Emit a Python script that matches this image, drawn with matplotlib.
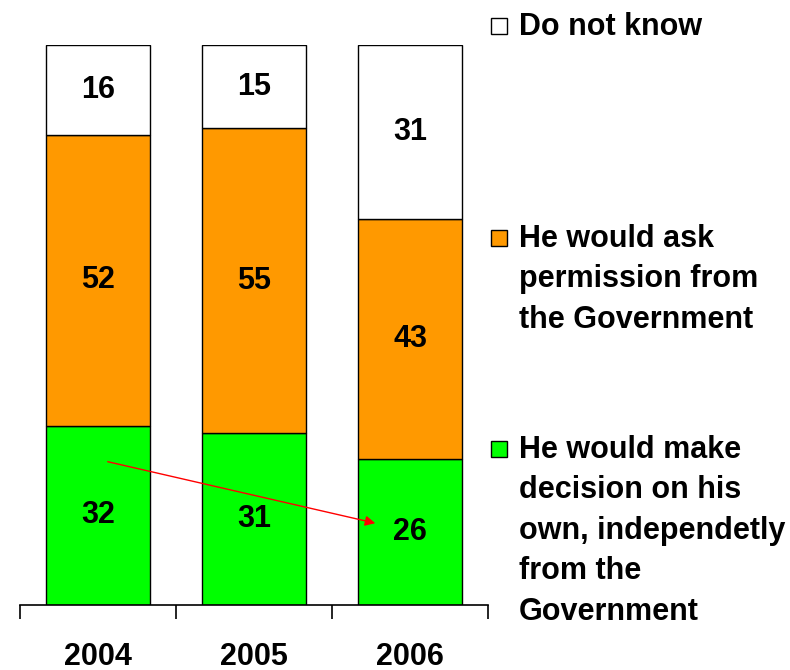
import matplotlib.pyplot as plt
import numpy as np

plt.rcParams['font.family'] = ['Liberation Sans', 'DejaVu Sans']
plt.rcParams['font.weight'] = 'bold'

# 데이터
years = ['2004', '2005', '2006']
independent = [32, 31, 26]
ask_permission = [52, 55, 43]
do_not_know = [16, 15, 31]

labels = ['Do not know',
          'He would ask\npermission from\nthe Government',
          'He would make\ndecision on his\nown, independetly\nfrom the\nGovernment']

fig = plt.figure(figsize=(7.9, 6.7), dpi=100)
ax = fig.add_axes([20 / 790, 1 - 605 / 670, 468 / 790, 560 / 670])

x = np.arange(len(years))
w = 0.67
series = [independent, ask_permission, do_not_know]
cols = ['#00ff00', '#ff9900', '#ffffff']
# 막대 높이는 합계 100%로 정규화
totals = np.array(independent) + np.array(ask_permission) + np.array(do_not_know)
bottom = np.zeros(len(years))
for vals, c in zip(series, cols):
    h = np.array(vals) / totals * 100
    ax.bar(x, h, w, bottom=bottom, color=c, edgecolor='black', linewidth=1)
    for xi, b, hh, v in zip(x, bottom, h, vals):
        ax.text(xi, b + hh / 2, str(v), ha='center', va='center', fontsize=22, fontweight='bold')
    bottom += h

ax.set_xlim(-0.5, 2.5)
ax.set_ylim(0, 100)
for s in ['top', 'right', 'left']:
    ax.spines[s].set_visible(False)
ax.spines['bottom'].set_linewidth(1.2)
ax.set_yticks([])
ax.set_xticks([-0.5, 0.5, 1.5, 2.5])
ax.set_xticklabels([])
ax.tick_params(axis='x', direction='out', length=10, width=1.2)
for xi, yr in zip(x, years):
    ax.text(xi, -9.2, yr, ha='center', va='center', fontsize=22, fontweight='bold')

# 화살표
ax.annotate('', xy=(1.795, 14.5), xytext=(0.045, 25.7),
            arrowprops=dict(arrowstyle='-|>', color='red', lw=1, mutation_scale=15))

# 범례
cap_top = [14, 226, 437]
box_c = ['#ffffff', '#ff9900', '#00ff00']
for ct, lab, c in zip(cap_top, labels, box_c):
    fig.patches.append(plt.Rectangle((491 / 790, 1 - (ct + 20) / 670), 16 / 790, 16 / 670,
                                     transform=fig.transFigure, facecolor=c,
                                     edgecolor='black', linewidth=1))
    fig.text(519 / 790, 1 - (ct - 2) / 670, lab, ha='left', va='top', fontsize=22,
             fontweight='bold', linespacing=1.455)

fig.savefig('out.png', dpi=100)
